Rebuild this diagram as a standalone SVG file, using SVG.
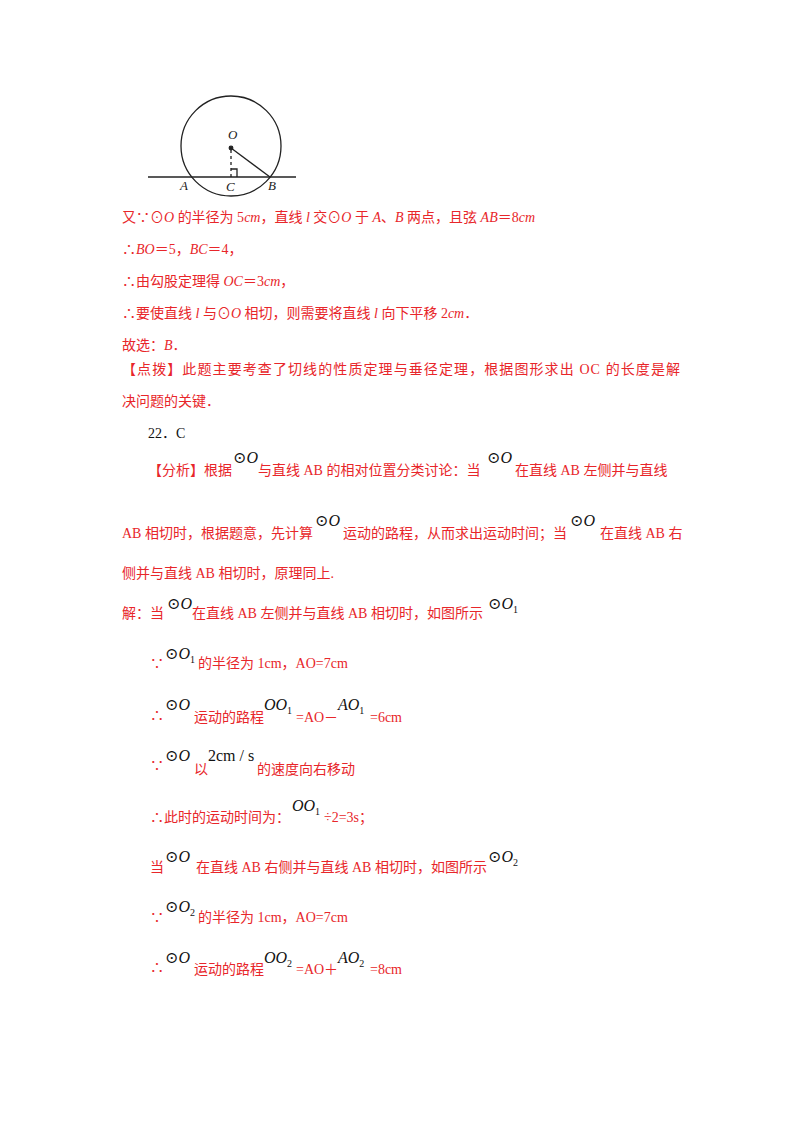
<svg xmlns="http://www.w3.org/2000/svg" width="800" height="1132" viewBox="0 0 800 1132">
<style>
.r{font-family:"Liberation Serif","Noto Sans CJK SC",serif;font-size:14px;fill:#e8262a}
.m{font-family:"Liberation Serif","DejaVu Serif",serif;font-size:16px;fill:#111}
.i{font-style:italic}
.s{font-size:10px;font-style:normal}
.k{font-family:"Liberation Serif","Noto Sans CJK SC",serif;font-size:14px;fill:#111}
.f{font-family:"Liberation Serif",serif;font-size:13px;font-style:italic;fill:#222}
</style>
<rect width="800" height="1132" fill="#fff"/>
<g id="figure" stroke="#222" stroke-width="1.3" fill="none">
<circle cx="231" cy="146" r="50"/>
<line x1="148" y1="177" x2="296" y2="177"/>
<line x1="231" y1="148" x2="270" y2="177"/>
<line x1="231" y1="150" x2="231" y2="177" stroke-dasharray="3,3"/>
<polyline points="231,169 237,169 237,177"/>
<circle cx="231" cy="148" r="1.8" fill="#222"/>
</g>
<text class="f" x="228" y="139">O</text>
<text class="f" x="180" y="190">A</text>
<text class="f" x="226" y="191">C</text>
<text class="f" x="268" y="190">B</text>
<text class="r" x="122" y="222">又∵⊙<tspan font-style="italic">O</tspan> 的半径为 5<tspan font-style="italic">cm</tspan>，直线 <tspan font-style="italic">l</tspan> 交⊙<tspan font-style="italic">O</tspan> 于 <tspan font-style="italic">A</tspan>、<tspan font-style="italic">B</tspan> 两点，且弦 <tspan font-style="italic">AB</tspan>＝8<tspan font-style="italic">cm</tspan></text>
<text class="r" x="122" y="254">∴<tspan font-style="italic">BO</tspan>＝5，<tspan font-style="italic">BC</tspan>＝4，</text>
<text class="r" x="122" y="286">∴由勾股定理得 <tspan font-style="italic">OC</tspan>＝3<tspan font-style="italic">cm</tspan>，</text>
<text class="r" x="122" y="318">∴要使直线 <tspan font-style="italic">l</tspan> 与⊙<tspan font-style="italic">O</tspan> 相切，则需要将直线 <tspan font-style="italic">l</tspan> 向下平移 2<tspan font-style="italic">cm</tspan>．</text>
<text class="r" x="122" y="350">故选：<tspan font-style="italic">B</tspan>．</text>
<text class="r" x="122" y="374" textLength="558" lengthAdjust="spacing">【点拨】此题主要考查了切线的性质定理与垂径定理，根据图形求出 OC 的长度是解</text>
<text class="r" x="122" y="406">决问题的关键．</text>
<text class="k" x="148" y="438">22．C</text>
<text class="r" x="148" y="475">【分析】根据</text><text class="m" x="233" y="463">⊙<tspan class="i">O</tspan></text>
<text class="r" x="258" y="475">与直线 AB 的相对位置分类讨论：当</text><text class="m" x="487" y="463">⊙<tspan class="i">O</tspan></text>
<text class="r" x="515" y="475">在直线 AB 左侧并与直线</text>
<text class="r" x="122" y="538">AB 相切时，根据题意，先计算</text><text class="m" x="315" y="526">⊙<tspan class="i">O</tspan></text>
<text class="r" x="343" y="538">运动的路程，从而求出运动时间；当</text><text class="m" x="570" y="526">⊙<tspan class="i">O</tspan></text>
<text class="r" x="600" y="538">在直线 AB 右</text>
<text class="r" x="122" y="578">侧并与直线 AB 相切时，原理同上.</text>
<text class="r" x="122" y="618">解：当</text><text class="m" x="167" y="609">⊙<tspan class="i">O</tspan></text>
<text class="r" x="192" y="618">在直线 AB 左侧并与直线 AB 相切时，如图所示</text><text class="m" x="488" y="609">⊙<tspan class="i">O</tspan><tspan class="s" dy="4">1</tspan></text>
<text class="r" x="150" y="668">∵</text><text class="m" x="165" y="659">⊙<tspan class="i">O</tspan><tspan class="s" dy="4">1</tspan></text>
<text class="r" x="198" y="668">的半径为 1cm，AO=7cm</text>
<text class="r" x="150" y="720">∴</text><text class="m" x="165" y="710">⊙<tspan class="i">O</tspan></text>
<text class="r" x="194" y="722">运动的路程</text><text class="m" x="264" y="710"><tspan class="i">OO</tspan><tspan class="s" dy="4">1</tspan></text>
<text class="r" x="296" y="722">=AO－</text><text class="m" x="338" y="710"><tspan class="i">AO</tspan><tspan class="s" dy="4">1</tspan></text>
<text class="r" x="370" y="722">=6cm</text>
<text class="r" x="150" y="770">∵</text><text class="m" x="165" y="761">⊙<tspan class="i">O</tspan></text>
<text class="r" x="194" y="774">以</text>
<text class="m" x="208" y="761">2cm / s</text>
<text class="r" x="257" y="774">的速度向右移动</text>
<text class="r" x="150" y="822">∴此时的运动时间为：</text><text class="m" x="292" y="811"><tspan class="i">OO</tspan><tspan class="s" dy="4">1</tspan></text>
<text class="r" x="324" y="822">÷2=3s；</text>
<text class="r" x="150" y="872">当</text><text class="m" x="165" y="862">⊙<tspan class="i">O</tspan></text>
<text class="r" x="196" y="872">在直线 AB 右侧并与直线 AB 相切时，如图所示</text><text class="m" x="488" y="862">⊙<tspan class="i">O</tspan><tspan class="s" dy="4">2</tspan></text>
<text class="r" x="150" y="922">∵</text><text class="m" x="165" y="912">⊙<tspan class="i">O</tspan><tspan class="s" dy="4">2</tspan></text>
<text class="r" x="198" y="922">的半径为 1cm，AO=7cm</text>
<text class="r" x="150" y="972">∴</text><text class="m" x="165" y="963">⊙<tspan class="i">O</tspan></text>
<text class="r" x="194" y="974">运动的路程</text><text class="m" x="264" y="963"><tspan class="i">OO</tspan><tspan class="s" dy="4">2</tspan></text>
<text class="r" x="296" y="974">=AO＋</text><text class="m" x="338" y="963"><tspan class="i">AO</tspan><tspan class="s" dy="4">2</tspan></text>
<text class="r" x="370" y="974">=8cm</text>
</svg>
